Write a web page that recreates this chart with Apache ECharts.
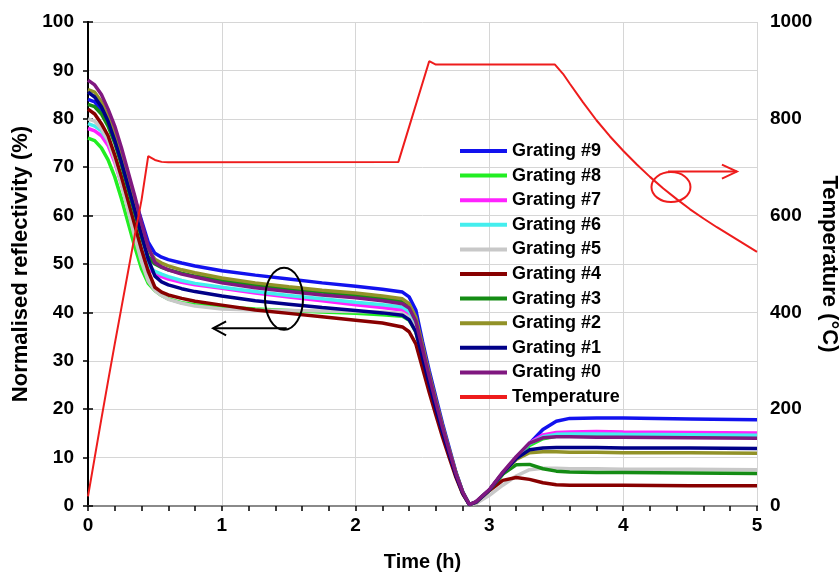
<!DOCTYPE html>
<html><head><meta charset="utf-8">
<script src="https://cdn.jsdelivr.net/npm/echarts/dist/echarts.min.js"></script>
<style>html,body{margin:0;padding:0;background:#fff}#c{width:840px;height:575px}</style>
</head><body><div id="c"></div>
<script>
// ---- data ----
const hours = [0,0.05,0.1,0.15,0.2,0.25,0.3,0.35,0.4,0.45,0.5,0.55,0.6,0.7,0.8,1.0,1.25,1.5,1.75,2.0,2.2,2.35,2.4,2.45,2.5,2.55,2.6,2.65,2.7,2.75,2.8,2.85,2.9,3.0,3.1,3.2,3.3,3.4,3.5,3.6,3.8,4.0,4.5,5.0];
const grating9 = [84,83.5,81.5,79,76, 72.5,68,63.5,59,54.5, 52.2,51.4,50.9,50.2,49.6, 48.6,47.7,46.9,46.1,45.4, 44.8,44.2,43.2,40.5,34, 28,22.5,17,12,7, 3,0.3,0.8,3.3,6.8, 10,12.9,15.8,17.5,18.1, 18.2,18.2,18.0,17.8];
const grating8 = [76,75.5,74,71.5,68, 63.5,58.5,53.5,49,46, 44.5,43.5,42.8,42,41.6, 41.1,40.7,40.4,40.1,39.8, 39.5,39.2,38.4,36,30.8, 25.3,20.2,15.2,10.6,6.2, 2.6,0.3,0.8,3.2,6.6, 9.8,12.5,13.9,14.4,14.6, 14.6,14.5,14.4,14.3];
const grating7 = [78,77.5,76.5,74.5,71, 66.5,61.5,56.5,52,49, 48,47.4,46.9,46.2,45.7, 45,44,43.2,42.4,41.6, 41,40.5,39.6,37,31.5, 26,20.8,15.7,11,6.5, 2.8,0.3,0.8,3.3,6.8, 10,13,14.7,15.2,15.3, 15.4,15.3,15.2,15.1];
const grating6 = [79,78.5,77.5,75.5,72, 67.5,62.5,57.5,53,49.6, 48.5,47.9,47.4,46.6,46, 45.2,44.3,43.5,42.8,42.1, 41.6,41.1,40.2,37.5,32, 26.4,21.1,16,11.2,6.6, 2.8,0.3,0.8,3.3,6.8, 10,12.9,14.3,14.8,14.9, 14.9,14.8,14.7,14.6];
const grating5 = [80,79.5,78,75.5,71.5, 66.5,61,55.5,50.5,46.5, 44.5,43.5,42.7,41.9,41.3, 40.7,40.5,40.4,40.3,40.2, 40.1,39.8,39,36.5,31, 25.5,20.3,15.4,10.8,6.4, 2.7,0.3,0.5,2.2,4.3, 6.2,7.5,7.8,7.8,7.7, 7.7,7.6,7.6,7.5];
const grating4 = [82,81,79,76.5,72.5, 68,63,58,53,48.5, 45.2,44.2,43.6,42.9,42.3, 41.5,40.5,39.8,39.1,38.4, 37.8,37,36,33.5,28.5, 23.5,18.8,14.2,10,5.9, 2.5,0.3,0.8,3.2,5.3, 5.9,5.5,4.8,4.4,4.3, 4.3,4.3,4.2,4.2];
const grating3 = [83,82.5,81,78.5,75, 70.5,65.5,60.5,55.5,51.5, 50,49.3,48.8,48.1,47.5, 46.6,45.6,44.9,44.2,43.5, 42.9,42.3,41.3,38.5,32.8, 27,21.6,16.3,11.4,6.7, 2.9,0.3,0.8,3.3,6.6, 8.5,8.6,7.7,7.2,7.0, 6.9,6.9,6.8,6.7];
const grating2 = [86,85.5,83.5,80.5,77, 72.5,67.5,62.5,57.5,53, 51,50.2,49.6,48.8,48.2, 47.1,46.1,45.3,44.6,44, 43.4,42.8,41.8,39,33.2, 27.3,21.8,16.5,11.6,6.8, 2.9,0.3,0.8,3.3,6.8, 9.6,11,11.2,11.2,11.1, 11.1,11,11,10.9];
const grating1 = [85.5,84.5,82.5,79.5,75.5, 71,66,61,56,51, 47.5,46.3,45.7,44.9,44.3, 43.4,42.4,41.7,41,40.4, 39.9,39.4,38.5,36,30.6, 25.2,20.1,15.2,10.7,6.3, 2.7,0.3,0.8,3.3,6.8, 9.8,11.6,12,12.1,12.1, 12.1,12,12,11.9];
const grating0 = [88,87,85,82,78.5, 74,69,64,58.5,53.5, 50.3,49.4,48.8,47.9,47.3, 46.1,45.1,44.3,43.6,43, 42.4,41.8,40.9,38.2,32.5, 26.8,21.4,16.2,11.4,6.7, 2.9,0.3,0.9,3.4,7, 10.2,13,14.1,14.3,14.3, 14.2,14.2,14.1,14.0];
const tempHours = [0,0.05,0.1,0.15,0.2,0.25,0.3,0.35,0.4,0.45,0.5,0.55,0.6,2.32,2.55,2.6,3.49,3.55,3.6,3.7,3.8,3.9,4.0,4.1,4.2,4.3,4.4,4.5,4.6,4.7,4.8,4.9,5.0];
const tempValues = [20,100,180,258,335,410,485,560,632,723,715,711,710,711,919,912,912,893,873,834,797,764,734,706,680,656,634,613,594,576,559,542,525];
const seriesNames = ['Grating #9','Grating #8','Grating #7','Grating #6','Grating #5','Grating #4','Grating #3','Grating #2','Grating #1','Grating #0'];
const seriesValues = [grating9,grating8,grating7,grating6,grating5,grating4,grating3,grating2,grating1,grating0];

// ---- styles ----
const colors = ['#1212ee','#22ee22','#ff22ff','#44eeee','#c8c8c8','#880000','#148c14','#929228','#000088','#801880'];
const tempColor = '#ee1c1c';
const FONT = '"Liberation Sans", Arial, sans-serif';

const chart = echarts.init(document.getElementById('c'), null, {renderer:'canvas'});
const series = seriesNames.map((n,k)=>({
  name:n, type:'line', symbol:'none', showSymbol:false, animation:false,
  data: hours.map((t,i)=>[t, seriesValues[k][i]]),
  lineStyle:{width:3.5, color:colors[k]}, itemStyle:{color:colors[k]}
}));
series.push({
  name:'Temperature', type:'line', yAxisIndex:1, symbol:'none', showSymbol:false, animation:false,
  data: tempHours.map((t,i)=>[t, tempValues[i]]),
  lineStyle:{width:2, color:tempColor}, itemStyle:{color:tempColor}
});

const labelStyle = {fontFamily:FONT, fontWeight:'bold', fontSize:19, color:'#000'};
chart.setOption({
  backgroundColor:'#fff',
  animation:false,
  grid:{left:88, right:83, top:22, bottom:69, containLabel:false, outerBoundsMode:'none'},
  legend:{
    data:[...seriesNames,'Temperature'].map(n=>({name:n, icon:'rect'})), orient:'vertical', left:455, top:136,
    itemWidth:47, itemHeight:4, itemGap:4.6,
    textStyle:{fontFamily:FONT, fontWeight:'bold', fontSize:18, lineHeight:20, color:'#000'}
  },
  xAxis:[{
    type:'value', min:0, max:5, interval:1,
    name:'Time (h)', nameLocation:'middle', nameGap:46, nameMoveOverlap:false,
    nameTextStyle:{fontFamily:FONT, fontWeight:'bold', fontSize:20, color:'#000'},
    axisLine:{lineStyle:{color:'#000', width:2}},
    axisTick:{show:true, length:5, lineStyle:{color:'#000', width:1.5}},
    minorTick:{show:true, splitNumber:5, length:5, lineStyle:{color:'#000', width:1.5}},
    axisLabel:{...labelStyle, margin:10},
    splitLine:{show:true, lineStyle:{color:'#d6d6d6', width:1}}
  },{
    type:'value', min:0, max:5, position:'top',
    axisLine:{show:true, lineStyle:{color:'#8a8a8a', width:2}},
    axisTick:{show:false}, axisLabel:{show:false}, splitLine:{show:false}
  }],
  yAxis:[{
    type:'value', min:0, max:100, interval:10,
    name:'Normalised reflectivity (%)', nameLocation:'middle', nameGap:56, nameMoveOverlap:false,
    nameTextStyle:{fontFamily:FONT, fontWeight:'bold', fontSize:22, color:'#000'},
    axisLine:{show:true, lineStyle:{color:'#000', width:2}},
    axisTick:{show:true, length:5, lineStyle:{color:'#000', width:1.5}},
    axisLabel:{...labelStyle, margin:14},
    splitLine:{show:true, lineStyle:{color:'#d6d6d6', width:1}}
  },{
    type:'value', min:0, max:1000, interval:200, position:'right',
    name:'Temperature (°C)', nameLocation:'middle', nameGap:61, nameRotate:-90, nameMoveOverlap:false,
    nameTextStyle:{fontFamily:FONT, fontWeight:'bold', fontSize:22, color:'#000'},
    axisLine:{show:true, lineStyle:{color:'#000', width:2}},
    axisTick:{show:true, length:5, lineStyle:{color:'#000', width:1.5}},
    axisLabel:{...labelStyle, margin:13, formatter:v=>String(v)},
    splitLine:{show:false}
  }],
  series
});

// ---- annotations anchored in data coordinates ----
function px(x, y, yi){ return chart.convertToPixel({xAxisIndex:0, yAxisIndex:yi}, [x, y]); }
const bc = px(1.465, 42.8, 0), ba0 = px(1.485, 36.7, 0), ba1 = px(0.935, 36.7, 0);
const rc = px(4.357, 659, 1), ra0 = px(4.335, 691, 1), ra1 = px(4.85, 691, 1);
chart.setOption({graphic:[
  {type:'ellipse', shape:{cx:bc[0], cy:bc[1], rx:19, ry:31}, style:{fill:'none', stroke:'#000', lineWidth:2}, z:100},
  {type:'line', shape:{x1:ba0[0], y1:ba0[1], x2:ba1[0], y2:ba1[1]}, style:{stroke:'#000', lineWidth:2}, z:100},
  {type:'polyline', shape:{points:[[ba1[0]+13, ba1[1]-7],[ba1[0], ba1[1]],[ba1[0]+13, ba1[1]+7]]}, style:{stroke:'#000', lineWidth:2, fill:'none'}, z:100},
  {type:'ellipse', shape:{cx:rc[0], cy:rc[1], rx:19.5, ry:15}, style:{fill:'none', stroke:tempColor, lineWidth:2}, z:100},
  {type:'line', shape:{x1:ra0[0], y1:ra0[1], x2:ra1[0], y2:ra1[1]}, style:{stroke:tempColor, lineWidth:2}, z:100},
  {type:'polyline', shape:{points:[[ra1[0]-15, ra1[1]-7],[ra1[0], ra1[1]],[ra1[0]-15, ra1[1]+7]]}, style:{stroke:tempColor, lineWidth:2, fill:'none'}, z:100}
]});
</script></body></html>
